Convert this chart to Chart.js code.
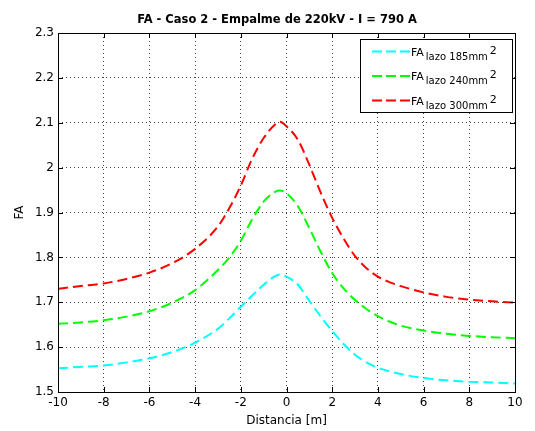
<!DOCTYPE html>
<html>
<head>
<meta charset="utf-8">
<script src="https://cdn.jsdelivr.net/npm/chart.js@4.4.1/dist/chart.umd.min.js"></script>
<style>
  html, body { margin: 0; padding: 0; background: #fff; }
</style>
</head>
<body>
<canvas id="faChart" width="535" height="431"></canvas>
<script>
// distancia [m] y FA
const distancias = [-10, -9, -8, -7, -6, -5, -4, -3, -2.5, -2, -1.5, -1, -0.5, -0.3,
  0, 0.5, 1, 1.5, 2, 2.5, 3, 3.5, 4, 4.5, 5, 6, 7, 8, 9, 10];

const fa185 = [1.553, 1.556, 1.559, 1.566, 1.575, 1.589, 1.610, 1.641, 1.664, 1.690, 1.715, 1.739, 1.758, 1.762,
  1.757, 1.739, 1.703, 1.668, 1.636, 1.607, 1.583, 1.566, 1.554, 1.546, 1.540, 1.531, 1.526, 1.523, 1.521, 1.519];

const fa240 = [1.652, 1.655, 1.660, 1.668, 1.680, 1.699, 1.727, 1.772, 1.800, 1.837, 1.885, 1.924, 1.946, 1.949,
  1.943, 1.914, 1.865, 1.812, 1.765, 1.731, 1.705, 1.685, 1.669, 1.657, 1.648, 1.637, 1.630, 1.625, 1.622, 1.620];

const fa300 = [1.730, 1.736, 1.742, 1.752, 1.766, 1.787, 1.819, 1.869, 1.910, 1.960, 2.020, 2.066, 2.096, 2.102,
  2.092, 2.062, 2.006, 1.944, 1.888, 1.842, 1.803, 1.776, 1.757, 1.745, 1.736, 1.722, 1.712, 1.706, 1.702, 1.699];

const xTicks = [-10, -8, -6, -4, -2, 0, 2, 4, 6, 8, 10];
const yTicks = [1.5, 1.6, 1.7, 1.8, 1.9, 2.0, 2.1, 2.2, 2.3];
const leyendaSub = ["lazo 185mm", "lazo 240mm", "lazo 300mm"];
const titulo = "FA - Caso 2 - Empalme de 220kV - I = 790 A";

const fuente = "'DejaVu Sans', sans-serif";

function serie(ys) {
  return distancias.map((d, i) => ({ x: d, y: ys[i] }));
}

// titulo, marco, ticks hacia dentro y leyenda con subindice
const marcoPlugin = {
  id: "marco",
  afterDatasetsDraw(chart) {
    const { ctx, chartArea: a, scales: { x, y } } = chart;
    ctx.save();
    ctx.fillStyle = "#000";
    ctx.font = "bold 11.5px " + fuente;
    ctx.textAlign = "center";
    ctx.textBaseline = "alphabetic";
    ctx.fillText(titulo, 277, 22.5);

    ctx.setLineDash([]);
    ctx.strokeStyle = "#000";
    ctx.lineWidth = 1;
    ctx.beginPath();
    xTicks.forEach(v => {
      const px = Math.round(x.getPixelForValue(v)) + 0.5;
      ctx.moveTo(px, a.bottom); ctx.lineTo(px, a.bottom - 5);
      ctx.moveTo(px, a.top); ctx.lineTo(px, a.top + 5);
    });
    yTicks.forEach(v => {
      const py = Math.round(y.getPixelForValue(v)) + 0.5;
      ctx.moveTo(a.left, py); ctx.lineTo(a.left + 5, py);
      ctx.moveTo(a.right, py); ctx.lineTo(a.right - 5, py);
    });
    ctx.stroke();
    ctx.strokeRect(Math.round(a.left) + 0.5, Math.round(a.top) + 0.5,
      Math.round(a.right - a.left), Math.round(a.bottom - a.top));

    // leyenda
    const lw = 152, lh = 73;
    const lx = Math.round(a.right) - 3 - lw, ly = Math.round(a.top) + 6;
    ctx.fillStyle = "#fff";
    ctx.fillRect(lx, ly, lw, lh);
    ctx.strokeRect(lx + 0.5, ly + 0.5, lw, lh);
    ctx.textAlign = "left";
    chart.data.datasets.forEach((ds, i) => {
      const ry = ly + 12.5 + i * 24.5;
      ctx.strokeStyle = ds.borderColor;
      ctx.lineWidth = 2;
      ctx.setLineDash([10, 4]);
      ctx.beginPath();
      ctx.moveTo(lx + 12, ry); ctx.lineTo(lx + 50, ry);
      ctx.stroke();
      ctx.setLineDash([]);
      ctx.fillStyle = "#000";
      let tx = lx + 51;
      ctx.font = "11px " + fuente;
      ctx.fillText("FA", tx, ry + 4);
      tx += ctx.measureText("FA").width + 2;
      ctx.font = "10px " + fuente;
      ctx.fillText(leyendaSub[i], tx, ry + 8);
      tx += ctx.measureText(leyendaSub[i]).width + 2;
      ctx.font = "11px " + fuente;
      ctx.fillText("2", tx, ry + 2);
    });
    ctx.restore();
  }
};

const estiloLinea = { borderWidth: 2, borderDash: [10, 5], pointRadius: 0, fill: false, cubicInterpolationMode: "monotone" };

new Chart(document.getElementById("faChart"), {
  type: "line",
  data: {
    datasets: [
      Object.assign({ label: "FA lazo 185mm2", data: serie(fa185), borderColor: "#00ffff" }, estiloLinea),
      Object.assign({ label: "FA lazo 240mm2", data: serie(fa240), borderColor: "#00ff00" }, estiloLinea),
      Object.assign({ label: "FA lazo 300mm2", data: serie(fa300), borderColor: "#ff0000" }, estiloLinea)
    ]
  },
  options: {
    responsive: false,
    animation: false,
    layout: { padding: { top: 33, right: 20, bottom: 0, left: 0 } },
    plugins: {
      legend: { display: false },
      tooltip: { enabled: false },
      title: { display: false }
    },
    scales: {
      x: {
        type: "linear",
        min: -10, max: 10,
        afterBuildTicks: s => { s.ticks = xTicks.map(v => ({ value: v })); },
        afterFit: s => { s.height = 39; },
        ticks: { color: "#000", padding: 4, maxRotation: 0, font: { family: fuente, size: 12 }, callback: v => String(v) },
        grid: { color: "rgba(0,0,0,0.75)", lineWidth: 1, drawTicks: false },
        border: { display: false, dash: [1, 3] },
        title: { display: true, text: "Distancia [m]", color: "#000", font: { family: fuente, size: 12 }, padding: { top: 0, bottom: 3 } }
      },
      y: {
        type: "linear",
        min: 1.5, max: 2.3,
        afterBuildTicks: s => { s.ticks = yTicks.map(v => ({ value: v })); },
        afterFit: s => { s.width = 58; },
        ticks: { color: "#000", padding: 4, font: { family: fuente, size: 12 }, callback: v => String(Number(v.toFixed(1))) },
        grid: { color: "rgba(0,0,0,0.75)", lineWidth: 1, drawTicks: false },
        border: { display: false, dash: [1, 3] },
        title: { display: true, text: "FA", color: "#000", font: { family: fuente, size: 12 }, padding: { top: 12.5, bottom: 0 } }
      }
    }
  },
  plugins: [marcoPlugin]
});
</script>
</body>
</html>
